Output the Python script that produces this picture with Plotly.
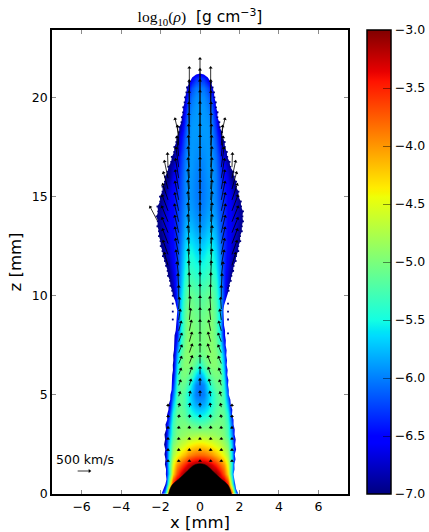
import math
import plotly.graph_objects as go

# --- density table, log10(rho)
x_cols = [0, .2, .4, .6, .8, 1.0, 1.2, 1.4, 1.6, 1.8, 2.0, 2.2, 2.4]
z_rows = [i * 0.5 for i in range(44)]
rho_rows = [
 [-3.0,-3.0,-3.0,-3.0,-3.0,-3.0,-3.0,-3.0,-3.6,-5.8,-6.8],
 [-3.0,-3.0,-3.0,-3.0,-3.0,-3.0,-3.0,-3.5,-5.0,-6.9],
 [-3.0,-3.0,-3.0,-3.0,-3.0,-3.3,-3.7,-4.3,-5.6],
 [-3.0,-3.05,-3.15,-3.3,-3.5,-3.75,-4.0,-4.5,-5.5],
 [-3.8,-3.82,-3.9,-4.0,-4.15,-4.3,-4.5,-4.8,-5.6,-6.9],
 [-4.3,-4.32,-4.38,-4.45,-4.55,-4.65,-4.8,-5.0,-5.7,-6.9],
 [-4.78,-4.79,-4.82,-4.84,-4.88,-4.92,-5.0,-5.25,-5.9],
 [-5.18,-5.15,-5.1,-5.03,-5.0,-5.02,-5.08,-5.3,-6.1],
 [-5.58,-5.54,-5.45,-5.3,-5.15,-5.08,-5.12,-5.45,-6.4],
 [-5.88,-5.82,-5.67,-5.45,-5.25,-5.13,-5.22,-5.75,-6.8],
 [-6.05,-6.0,-5.75,-5.5,-5.25,-5.12,-5.3,-6.1],
 [-6.05,-5.95,-5.6,-5.3,-5.12,-5.08,-5.4,-6.4],
 [-5.85,-5.6,-5.25,-5.08,-5.0,-5.05,-5.55,-6.7],
 [-5.45,-5.2,-5.03,-4.95,-4.95,-5.1,-5.7,-6.9],
 [-5.1,-5.05,-4.97,-4.93,-4.97,-5.2,-5.9],
 [-5.05,-5.02,-4.97,-4.93,-5.03,-5.35,-6.2],
 [-5.05,-5.02,-4.97,-4.95,-5.1,-5.5,-6.5],
 [-5.07,-5.04,-4.98,-4.97,-5.15,-5.6,-6.6],
 [-5.1,-5.07,-5.02,-5.0,-5.18,-5.6,-6.5],
 [-5.15,-5.12,-5.05,-5.05,-5.22,-5.65,-6.4],
 [-5.2,-5.17,-5.1,-5.1,-5.3,-5.7,-6.3],
 [-5.3,-5.27,-5.2,-5.2,-5.35,-5.8,-6.3,-6.8],
 [-5.42,-5.38,-5.3,-5.3,-5.45,-5.85,-6.3,-6.7],
 [-5.52,-5.48,-5.4,-5.4,-5.55,-5.9,-6.3,-6.6,-6.9],
 [-5.62,-5.57,-5.47,-5.47,-5.62,-5.95,-6.3,-6.55,-6.75,-6.9],
 [-5.72,-5.67,-5.57,-5.55,-5.7,-6.0,-6.3,-6.5,-6.7,-6.85],
 [-5.82,-5.77,-5.67,-5.65,-5.78,-6.05,-6.3,-6.5,-6.65,-6.8],
 [-5.92,-5.87,-5.77,-5.75,-5.85,-6.1,-6.3,-6.5,-6.6,-6.7,-6.9],
 [-5.98,-5.93,-5.85,-5.83,-5.92,-6.12,-6.3,-6.5,-6.6,-6.7,-6.85],
 [-6.03,-5.98,-5.9,-5.88,-5.97,-6.15,-6.32,-6.5,-6.6,-6.75,-6.9],
 [-6.05,-6.0,-5.93,-5.9,-6.0,-6.18,-6.35,-6.5,-6.65,-6.8],
 [-6.05,-6.0,-5.93,-5.9,-6.0,-6.2,-6.4,-6.55,-6.75],
 [-6.03,-5.98,-5.92,-5.9,-6.0,-6.22,-6.45,-6.65],
 [-6.0,-5.96,-5.9,-5.9,-6.02,-6.27,-6.5,-6.8],
 [-5.97,-5.94,-5.9,-5.92,-6.06,-6.32,-6.65],
 [-5.94,-5.92,-5.9,-5.95,-6.12,-6.45,-6.85],
 [-5.92,-5.9,-5.9,-5.97,-6.2,-6.55],
 [-5.9,-5.89,-5.9,-6.0,-6.3,-6.8],
 [-5.9,-5.9,-5.92,-6.05,-6.4],
 [-5.9,-5.91,-5.97,-6.15,-6.6],
 [-5.93,-5.95,-6.05,-6.3,-6.8],
 [-6.02,-6.05,-6.2,-6.55],
 [-6.3,-6.35,-6.6],
 [-7.0],
]

# --- outline of the gas, half width in mm, every 0.25 mm of z
edge_z = [i * 0.25 for i in range(85)] + [21.15, 21.2]
edge_left = [1.95,1.85,1.75,1.70,1.73,1.72,1.78,1.75,1.80,1.76,1.82,1.77,1.80,1.72,1.75,1.66,1.67,1.60,1.59,1.51,
 1.50,1.44,1.44,1.41,1.41,1.37,1.38,1.35,1.36,1.32,1.32,1.29,1.29,1.23,1.21,1.16,1.16,1.15,1.21,1.26,
 1.37,1.41,1.50,1.52,1.62,1.64,1.72,1.78,1.88,1.90,1.99,2.00,2.08,2.08,2.16,2.14,2.20,2.12,2.16,2.02,
 2.03,1.90,1.90,1.78,1.78,1.64,1.60,1.46,1.43,1.31,1.30,1.20,1.18,1.06,1.05,.94,.92,.86,.85,.78,
 .76,.69,.66,.55,.40,.20,0]
edge_right = [1.95,1.83,1.77,1.74,1.70,1.75,1.74,1.80,1.76,1.83,1.78,1.81,1.75,1.76,1.70,1.70,1.62,1.64,1.56,1.54,
 1.46,1.46,1.42,1.44,1.38,1.40,1.35,1.37,1.33,1.35,1.30,1.31,1.27,1.27,1.22,1.21,1.18,1.19,1.22,1.30,
 1.35,1.45,1.47,1.56,1.59,1.68,1.70,1.81,1.83,1.94,1.94,2.04,2.03,2.12,2.12,2.18,2.15,2.18,2.08,2.07,
 1.95,1.95,1.82,1.83,1.72,1.69,1.53,1.50,1.38,1.36,1.26,1.25,1.13,1.11,1.00,.98,.88,.89,.81,.80,
 .73,.71,.64,.56,.40,.20,0]

# --- black core above the top of the colour scale
core_x = [0, .25, .5, .75, 1.0, 1.2, 1.45, 1.6]
core_z = [1.52, 1.48, 1.3, 1.05, .82, .65, .4, 0]

# --- detached specks
speck_x = [-1.38,-1.38,-1.38,-1.38,1.42,1.42,1.42,1.42,1.42]
speck_z = [10.0,9.6,9.2,8.8,10.4,9.6,9.2,8.8,8.1]

# --- velocity arrows, km/s
arrow_cols = [0, .54, 1.08, 1.62]
arrow_rows = [1.63,2.18,2.73,3.28,3.83,4.38,4.93,5.48,6.03,6.58,7.13,7.68,8.23,8.78,9.33,9.88,10.43,10.98,
 11.53,12.08,12.63,13.18,13.73,14.28,14.83,15.38,15.93,16.48,17.03,17.58,18.13,18.68,19.23,19.78,20.33,20.88]
vz_rows = [
 [30,30,30,30],[40,40,40,40],[50,50,50,50],[70,70,60,60],[90,90,90,80],[120,120,110,80],
 [180,170,150],[240,220,190],[280,260,220],[320,290,260],[340,320,280],[380,360,320],
 [420,400,360],[460,440,400],[500,480,440],[540,520,480],[580,560,520],[620,600,560],
 [660,640,600,500],[690,670,630,550],[720,700,650,580],[740,720,680,600],[760,740,700,620],
 [780,760,720,630],[800,780,740,650],[810,790,760,680],[830,810,780,700],[840,820,800,560],
 [850,830,800],[860,840,800],[870,850,650],[880,860],[890,870],[890,880],[890,970],[890],
]
vx_rows = [
 [0,0,0,0],[0,0,0,0],[0,0,0,0],[0,0,-5,0],[0,-10,-15,0],[0,-20,-30,0],
 [0,-30,-50],[0,-60,-70],[0,-90,-90],[0,-110,-110],[0,-110,-120],[0,-100,-120],
 [0,-80,-100],[0,-50,-60],[0,-30,-30],[0,-10,0],[0,10,30],[0,30,70],
 [0,50,110,150],[0,50,130,200],[0,60,150,220],[0,60,160,240],[0,60,170,250],
 [0,60,160,240],[0,60,150,220],[0,60,140,190],[0,50,130,150],[0,50,110,20],
 [0,40,80],[0,30,50],[0,20,150],[0,15],[0,10],[0,5],[0,0],[0],
]
# a lone long arrow on the left side: x, z, vx, vz
lone_arrows = [[-2.16, 13.78, -300, 570]]
KM_S_PER_MM = 830
key_speed = 500
key_pos = [-6.2, 1.16]

tick_x = [-6, -4, -2, 0, 2, 4, 6]
tick_z = [0, 5, 10, 15, 20]
tick_c = [-3.0, -3.5, -4.0, -4.5, -5.0, -5.5, -6.0, -6.5, -7.0]

jet = [[0,'rgb(0,0,128)'],[.11,'rgb(0,0,255)'],[.125,'rgb(0,0,255)'],[.34,'rgb(0,219,255)'],
       [.35,'rgb(0,229,247)'],[.375,'rgb(20,255,226)'],[.64,'rgb(238,255,8)'],[.65,'rgb(247,245,0)'],
       [.66,'rgb(255,236,0)'],[.89,'rgb(255,18,0)'],[.91,'rgb(232,0,0)'],[1,'rgb(128,0,0)']]

# mirrored heat table
full_x = [-c for c in x_cols[:0:-1]] + x_cols
full_z = []
for r in rho_rows:
    p = r + [-7.0] * (len(x_cols) - len(r))
    full_z.append(p[:0:-1] + p)

fig = go.Figure()
fig.add_trace(go.Heatmap(x=full_x, y=z_rows, z=full_z, zmin=-7, zmax=-3, zsmooth='best',
    colorscale=jet, hoverinfo='skip',
    colorbar=dict(x=(367 - 52) / 296, xref='paper', xanchor='left', y=0, yanchor='bottom', len=1,
                  lenmode='fraction', ypad=0, xpad=0, thickness=24, thicknessmode='pixels',
                  outlinecolor='black', outlinewidth=1.5, ticks='inside', ticklen=8, tickwidth=1,
                  tickcolor='rgba(0,0,0,0.45)', tickvals=tick_c, tickformat='.1f',
                  tickfont=dict(family='DejaVu Sans', size=12.5, color='black'))))

# white masks outside the outline
xr, zr = 7.5, 23.4
mx = [-xr] + [-e for e in edge_left] + [0, -xr, -xr, None, xr] + edge_right + [0, xr, xr]
mz = [0] + edge_z + [zr, zr, 0, None, 0] + edge_z + [zr, zr, 0]
fig.add_trace(go.Scatter(x=mx, y=mz, mode='lines', fill='toself', fillcolor='white',
                         line=dict(width=0), hoverinfo='skip', showlegend=False))
# rough navy rim along the outline, and detached specks
rim_x = [-e for e, z in zip(edge_left, edge_z) if 10 < z < 21] + [e for e, z in zip(edge_right, edge_z) if 10 < z < 21]
rim_z = [z for z in edge_z if 10 < z < 21] * 2
fig.add_trace(go.Scatter(x=rim_x + speck_x, y=rim_z + speck_z, mode='markers', hoverinfo='skip', showlegend=False,
                         marker=dict(symbol='square', size=1.8, color='rgb(0,0,128)', line=dict(width=0))))
# black core
cx = [-c for c in core_x[::-1]] + core_x[1:]
cz = core_z[::-1] + core_z[1:]
fig.add_trace(go.Scatter(x=cx, y=cz, mode='lines', fill='toself', fillcolor='black',
                         line=dict(width=0.5, color='black', shape='spline'), hoverinfo='skip', showlegend=False))

# arrows
arrows = []
for z0, vzs, vxs in zip(arrow_rows, vz_rows, vx_rows):
    for c, vz, vx in zip(arrow_cols, vzs, vxs):
        arrows.append((c, z0, vx, vz))
        if c != 0:
            arrows.append((-c, z0, -vx, vz))
for a in lone_arrows:
    arrows.append(tuple(a))

def add_arrows(items, lw=0.8, head=3.5):
    lx, ly, hx, hy, ang = [], [], [], [], []
    for x0, z0, vx, vz in items:
        x1 = x0 + vx / KM_S_PER_MM
        z1 = z0 + vz / KM_S_PER_MM
        lx += [x0, x1, None]
        ly += [z0, z1, None]
        hx.append(x1); hy.append(z1)
        ang.append(math.degrees(math.atan2(vx, vz)))
    fig.add_trace(go.Scatter(x=lx, y=ly, mode='lines', line=dict(color='black', width=lw),
                             hoverinfo='skip', showlegend=False))
    fig.add_trace(go.Scatter(x=hx, y=hy, mode='markers', hoverinfo='skip', showlegend=False,
                             marker=dict(symbol='triangle-up', size=head, angle=ang, color='black',
                                         line=dict(width=0))))
add_arrows(arrows)
add_arrows([(key_pos[0], key_pos[1], key_speed, 0)])

fig.add_annotation(x=-7.38, y=1.72, text='500 km/s', showarrow=False, xanchor='left', yanchor='middle',
                   font=dict(family='DejaVu Sans', size=12.5, color='black'))

axis = dict(showgrid=False, zeroline=False, showline=True, linecolor='black', linewidth=1.5,
            mirror='ticks', ticks='inside', ticklen=4, tickwidth=1, tickcolor='rgba(0,0,0,0.45)',
            tickfont=dict(family='DejaVu Sans', size=12.5, color='black'))
fig.update_xaxes(range=[-xr, xr], tickvals=tick_x, title=dict(text='x [mm]', standoff=0,
                 font=dict(family='DejaVu Sans', size=16.5, color='black')), **axis)
fig.update_yaxes(range=[0, zr], tickvals=tick_z, title=dict(text='z [mm]', standoff=6,
                 font=dict(family='DejaVu Sans', size=16.5, color='black')), **axis)
serif = "font-family:'Liberation Serif'"
fig.update_layout(width=429, height=532, margin=dict(l=52, r=81, t=30, b=38, pad=0, autoexpand=False),
                  plot_bgcolor='white', paper_bgcolor='white',
                  title=dict(text=f"<span style=\"{serif}\">log<sub>10</sub>(<i>ρ</i>)</span>  [g cm<sup>−3</sup>]",
                             x=200 / 429, xanchor='center', y=1 - 17 / 532, yanchor='middle',
                             font=dict(family='DejaVu Sans', size=15.5, color='black')))
fig.write_html("out.html", config={"displayModeBar": False}, post_script="document.body.style.margin='0';")
